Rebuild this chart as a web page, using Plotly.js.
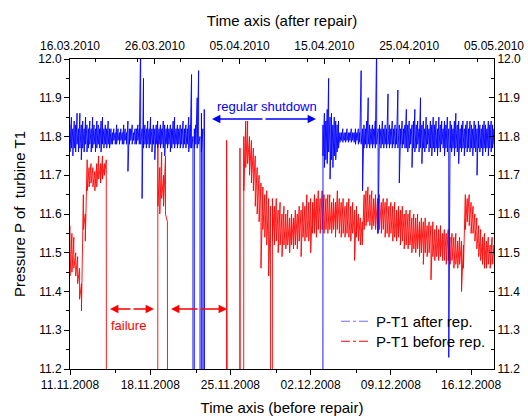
<!DOCTYPE html>
<html><head><meta charset="utf-8">
<script src="https://cdn.plot.ly/plotly-3.0.1.min.js"></script>
<style>html,body{margin:0;padding:0;background:#fff}#chart{width:528px;height:420px}</style>
</head><body><div id="chart"></div>
<script>
// Each 4-hour interval is stored as its highest and lowest reading (envelope of the noisy signal).
const STEP_HOURS = 4;
const seriesNames = ['P-T1 after rep.', 'P-T1 before rep.'];
const seriesColors = ['#0000ff', '#ff0000'];

// ---- Blue series (after repair), top time axis ----
const blueSeg1Start = '2010-03-16T00:00:00Z';
const blueSeg1Hi = [11.83,11.85,11.82,11.84,11.83,11.86,11.82,11.86,11.83,11.84,
 11.82,11.85,11.83,11.82,11.84,11.82,11.85,11.83,11.82,11.84,
 11.83,11.82,11.84,11.85,11.82,11.83,11.82,11.84,11.82,11.82,
 11.81,11.82,11.81,11.83,11.82,11.81,11.82,11.81,11.83,11.82,
 11.81,11.84,11.82,11.82,11.83,11.81,11.82,11.82,11.83,11.82,
 12.05,11.82,11.95,11.83,11.82,11.84,11.82,11.85,11.82,11.83,
 11.82,11.83,11.84,11.82,11.83,11.82,11.84,11.83,11.82,11.83,
 11.82,11.83,11.82,11.84,11.85,11.82,11.83,11.82,11.83,11.82,
 11.84,11.82,11.83,11.82,11.85,11.83,11.96,11.80,11.82,11.83,
 11.90,11.97,11.80,11.86,11.82,11.87,0];
const blueSeg1Lo = [11.76,11.77,11.75,11.77,11.76,11.78,11.76,11.77,11.74,11.77,
 11.76,11.78,11.76,11.77,11.78,11.76,11.77,11.78,11.76,11.77,
 11.78,11.77,11.76,11.78,11.77,11.78,11.77,11.78,11.77,11.78,
 11.78,11.79,11.78,11.78,11.79,11.78,11.79,11.78,11.78,11.79,
 11.78,11.71,11.78,11.79,11.78,11.79,11.78,11.78,11.79,11.78,
 11.78,11.64,11.77,11.78,11.77,11.78,11.77,11.78,11.76,11.78,
 11.74,11.78,11.77,11.78,11.77,11.78,11.77,11.75,11.78,11.77,
 11.78,11.76,11.77,11.78,11.77,11.78,11.77,11.78,11.77,11.78,
 11.77,11.78,11.77,11.78,11.76,11.77,11.77,0,11.77,11.78,
 11.77,11.78,0,11.76,0,0,0];
const blueSeg2Start = '2010-04-14T16:00:00Z';
const blueSeg2Hi = [0,11.83,11.86,11.84,11.87,11.95,11.85,11.86,11.83,11.85,
 11.84,11.83,11.84,11.81,11.81,11.82,11.81,11.81,11.82,11.81,
 11.81,11.82,11.81,11.81,11.82,11.81,11.82,11.81,11.97,11.82,
 11.83,11.82,11.84,11.90,11.83,11.82,11.83,11.82,11.84,12.05,
 11.82,11.83,11.82,11.84,11.82,11.83,11.82,11.91,11.83,11.82,
 11.84,11.82,11.83,11.82,11.92,11.83,11.82,11.84,11.82,11.83,
 11.87,11.83,11.84,11.82,11.83,11.84,11.87,11.83,11.84,11.82,
 11.90,11.83,11.84,11.82,11.85,11.83,11.82,11.84,11.83,11.85,
 11.83,11.84,11.82,11.85,11.83,11.84,11.82,11.84,11.83,11.85,
 11.82,11.84,11.83,11.82,11.84,11.86,11.83,11.84,11.82,11.83,
 11.84,11.82,11.83,11.84,11.82,11.84,11.83,11.82,11.84,11.83,
 11.82,11.84,11.83,11.82,11.83,11.84,11.83,11.82,11.84,11.83,
 11.84,11.83,11.82];
const blueSeg2Lo = [0,11.75,11.72,11.74,11.73,11.76,11.69,11.74,11.72,11.75,
 11.74,11.76,11.77,11.785,11.79,11.785,11.79,11.785,11.79,11.785,
 11.79,11.785,11.79,11.785,11.78,11.79,11.78,11.785,11.78,11.66,
 11.77,11.78,11.77,11.78,11.77,11.78,11.77,11.78,11.77,11.78,
 11.55,11.78,11.77,11.78,11.77,11.78,11.77,11.78,11.77,11.78,
 11.77,11.78,11.77,11.78,11.77,11.68,11.78,11.77,11.78,11.77,
 11.77,11.76,11.77,11.78,11.72,11.77,11.76,11.77,11.78,11.76,
 11.77,11.73,11.77,11.76,11.77,11.78,11.76,11.77,11.75,11.77,
 11.76,11.77,11.75,11.77,11.76,11.78,11.77,11.75,11.77,11.76,
 11.23,11.77,11.76,11.77,11.75,11.77,11.76,11.73,11.77,11.76,
 11.77,11.75,11.77,11.76,11.77,11.76,11.77,11.75,11.77,11.76,
 11.70,11.77,11.76,11.77,11.75,11.77,11.76,11.77,11.75,11.77,
 11.76,11.77,11.78];

// ---- Red series (before repair), bottom time axis ----
const redSegAStart = '2008-11-11T00:00:00Z';
const redSegAHi = [11.57,11.55,11.54,11.50,11.49,11.46,11.42,11.65,11.60,11.74,
 11.72,11.73,11.72,11.71,11.73,11.75,11.73,11.75,11.73,11.74,0];
const redSegALo = [11.44,11.45,11.46,11.44,11.42,11.38,11.35,11.56,11.53,11.66,
 11.67,11.68,11.67,11.66,11.67,11.69,11.68,11.69,11.70,11.70,0];
const redSegBStart = '2008-11-18T12:00:00Z';
const redSegBHi = [0,11.79,11.72,11.76,11.70,11.75,11.58,0];
const redSegBLo = [0,11.62,11.60,11.64,11.62,11.60,11.48,0];
const redSegCStart = '2008-11-24T08:00:00Z';
const redSegCHi = [0,0,11.79,0,0,0,0,0,0,11.77,
 0,11.80,11.84,11.84,11.80,11.79,11.77,11.75,11.72,11.70,
 11.68,11.67,11.65,11.66,11.64,11.62,11.64,11.62,11.64,11.61,
 11.63,11.60,11.62,11.60,11.61,11.59,11.60,11.59,11.61,11.60,
 11.62,11.61,11.63,11.62,11.65,11.63,11.64,11.63,11.65,11.64,
 11.66,11.64,11.66,11.65,11.64,11.65,11.65,11.63,11.64,11.63,
 11.66,11.64,11.63,11.64,11.62,11.63,11.64,11.62,11.63,11.61,
 11.62,11.60,11.59,11.58,11.65,11.66,11.67,11.65,11.66,11.64,
 11.65,11.64,11.65,11.63,11.64,11.63,11.64,11.62,11.63,11.62,
 11.63,11.61,11.62,11.61,11.62,11.60,11.61,11.60,11.61,11.59,
 11.60,11.59,11.60,11.58,11.59,11.58,11.59,11.57,11.58,11.57,
 11.58,11.56,11.57,11.56,11.57,11.55,11.56,11.55,11.56,11.54,
 11.55,11.54,11.55,11.53,11.54,11.53,11.52,11.65,11.64,11.65,
 11.63,11.62,11.60,11.59,11.57,11.56,11.54,11.55,11.53,11.54,
 11.52,11.54,11.52];
const redSegCLo = [0,0,0,0,0,0,0,0,0,0,
 0,11.66,11.72,11.73,11.70,11.68,11.66,11.62,11.60,11.58,
 11.46,11.56,11.54,11.52,11.44,0,11.53,11.52,11.53,11.50,
 11.52,11.49,11.52,11.51,11.52,11.50,11.52,11.51,11.52,11.51,
 11.53,11.49,11.54,11.53,11.54,11.53,11.50,11.55,11.55,11.54,
 11.56,11.55,11.56,11.55,11.56,11.55,11.56,11.55,11.56,11.54,
 11.56,11.55,11.54,11.55,11.54,11.55,11.54,11.53,11.55,11.48,
 11.54,11.53,11.52,11.52,11.56,11.57,11.58,11.57,11.56,11.57,
 11.56,11.55,11.56,11.55,11.56,11.54,11.55,11.54,11.55,11.53,
 11.54,11.53,11.54,11.52,11.53,11.51,11.52,11.51,11.52,11.50,
 11.51,11.50,11.51,11.49,11.50,11.47,11.50,11.49,11.50,11.43,
 11.49,11.48,11.49,11.48,11.49,11.48,11.48,11.47,11.48,11.47,
 11.48,11.46,11.47,11.46,11.47,11.40,11.46,11.56,11.58,11.57,
 11.55,11.55,11.53,11.51,11.49,11.48,11.47,11.46,11.46,11.47,
 11.46,11.47,11.47];

// ---- Axes ----
const bottomRange = ['2008-11-11 00:00', '2008-12-18 00:00'];
const bottomTick0 = '2008-11-11';
const bottomMinorTick0 = '2008-11-15';
const topRange = ['2010-03-16 00:00', '2010-05-05 00:00'];
const topTick0 = '2010-03-16';
const yRange = [11.2, 12.0];

const DAY = 86400000;
function stamp(start, i) {
  return new Date(Date.parse(start) + i * STEP_HOURS * 3600000).toISOString().slice(0, 19).replace('T', ' ');
}
function envelope(segments) {
  const x = [], y = [];
  segments.forEach(([start, hi, lo]) => {
    for (let i = 0; i < hi.length; i++) {
      const t = stamp(start, i);
      x.push(t, t); y.push(hi[i], lo[i]);
    }
  });
  return {x, y};
}
const blue = envelope([[blueSeg1Start, blueSeg1Hi, blueSeg1Lo], [blueSeg2Start, blueSeg2Hi, blueSeg2Lo]]);
const red = envelope([[redSegAStart, redSegAHi, redSegALo], [redSegBStart, redSegBHi, redSegBLo], [redSegCStart, redSegCHi, redSegCLo]]);

const FONT = 'Liberation Sans, Arial, sans-serif';
const traces = [
  {x: red.x, y: red.y, xaxis: 'x', yaxis: 'y', type: 'scatter', mode: 'lines', line: {color: seriesColors[1], width: 0.9}, showlegend: false, hoverinfo: 'skip'},
  {x: blue.x, y: blue.y, xaxis: 'x2', yaxis: 'y', type: 'scatter', mode: 'lines', line: {color: seriesColors[0], width: 0.9}, showlegend: false, hoverinfo: 'skip'},
  {x: [null], y: [null], xaxis: 'x2', yaxis: 'y2', type: 'scatter', mode: 'lines', name: seriesNames[0], legend: 'legend', line: {color: 'rgba(60,60,255,0.75)', width: 1.2, dash: 'dashdot'}},
  {x: [null], y: [null], xaxis: 'x', yaxis: 'y2', type: 'scatter', mode: 'lines', name: seriesNames[1], legend: 'legend2', line: {color: seriesColors[1], width: 1.2, dash: 'dashdot'}}
];

const axBase = {showline: true, linecolor: '#000', linewidth: 1, showgrid: false, zeroline: false, tickcolor: '#000', tickwidth: 1, ticklen: 5, tickfont: {family: FONT, size: 12, color: '#000'}};
function px2x(p) { return (p - 70) / 424; }
function px2y(p) { return (369 - p) / 310; }
const arrowStyle = {xref: 'paper', yref: 'paper', showarrow: true, arrowhead: 2, arrowsize: 1.2, arrowwidth: 1.4, standoff: 0, startstandoff: 0, text: '', ay: 0};
const legendStyle = {xanchor: 'left', yanchor: 'top', bgcolor: 'rgba(0,0,0,0)', font: {family: FONT, size: 15, color: '#000'}};
const layout = {
  width: 528, height: 420,
  margin: {l: 70, r: 34, t: 59, b: 51, pad: 0},
  paper_bgcolor: '#fff', plot_bgcolor: '#fff',
  font: {family: FONT, size: 12, color: '#000'},
  showlegend: true,
  legend: Object.assign({x: px2x(336), y: px2y(305)}, legendStyle),
  legend2: Object.assign({x: px2x(336), y: px2y(325)}, legendStyle),
  xaxis: Object.assign({}, axBase, {type: 'date', range: bottomRange, tick0: bottomTick0, dtick: 7 * DAY, tickformat: '%d.%m.%Y', ticks: 'outside',
    minor: {ticks: 'outside', ticklen: 3, tick0: bottomMinorTick0, dtick: 7 * DAY, tickcolor: '#000', showgrid: false},
    title: {text: 'Time axis (before repair)', font: {family: FONT, size: 15, color: '#000'}, standoff: 11}}),
  xaxis2: Object.assign({}, axBase, {type: 'date', overlaying: 'x', side: 'top', anchor: 'y', range: topRange, tick0: topTick0, dtick: 10 * DAY, tickformat: '%d.%m.%Y', ticks: 'inside', ticklabelstandoff: 3,
    minor: {ticks: 'inside', ticklen: 3, dtick: 5 * DAY, tickcolor: '#000', showgrid: false},
    title: {text: 'Time axis (after repair)', font: {family: FONT, size: 15, color: '#000'}, standoff: 8}}),
  yaxis: Object.assign({}, axBase, {range: yRange, dtick: 0.1, tickformat: '.1f', ticks: 'outside',
    minor: {ticks: 'outside', ticklen: 3, dtick: 0.05, tickcolor: '#000', showgrid: false},
    title: {text: 'Pressure P of\u00a0 turbine T1', font: {family: FONT, size: 15, color: '#000'}, standoff: 8}}),
  yaxis2: Object.assign({}, axBase, {overlaying: 'y', side: 'right', anchor: 'x', range: yRange, dtick: 0.1, tickformat: '.1f', ticks: 'inside',
    minor: {ticks: 'inside', ticklen: 3, dtick: 0.05, tickcolor: '#000', showgrid: false}}),
  annotations: [
    {xref: 'paper', yref: 'paper', x: px2x(267), y: px2y(107), xanchor: 'center', yanchor: 'middle', text: 'regular shutdown', showarrow: false, font: {family: FONT, size: 13, color: '#0000ff'}},
    Object.assign({}, arrowStyle, {x: px2x(212), y: px2y(119), ax: 52, arrowcolor: '#0000ff'}),
    Object.assign({}, arrowStyle, {x: px2x(316), y: px2y(119), ax: -52, arrowcolor: '#0000ff'}),
    {xref: 'paper', yref: 'paper', x: px2x(128), y: px2y(325), xanchor: 'center', yanchor: 'middle', text: 'failure', showarrow: false, font: {family: FONT, size: 13, color: '#ff0000'}},
    Object.assign({}, arrowStyle, {x: px2x(110), y: px2y(309), ax: 22, arrowcolor: '#ff0000'}),
    Object.assign({}, arrowStyle, {x: px2x(154), y: px2y(309), ax: -22, arrowcolor: '#ff0000'}),
    Object.assign({}, arrowStyle, {x: px2x(171), y: px2y(309), ax: 28, arrowcolor: '#ff0000'}),
    Object.assign({}, arrowStyle, {x: px2x(227), y: px2y(309), ax: -28, arrowcolor: '#ff0000'})
  ]
};
Plotly.newPlot('chart', traces, layout, {displayModeBar: false, staticPlot: true});
</script>
</body></html>
